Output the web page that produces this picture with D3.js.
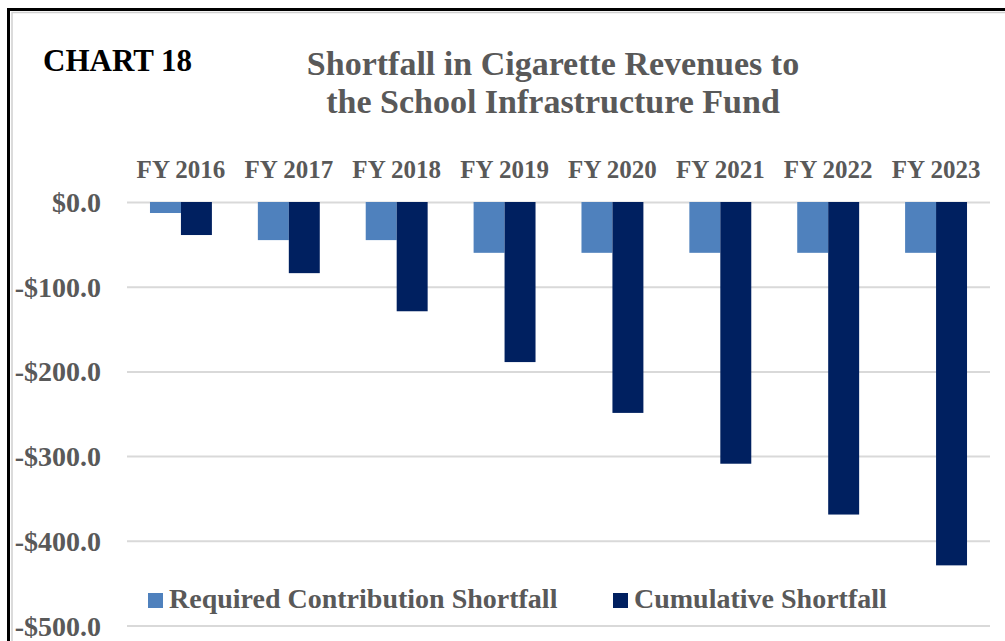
<!DOCTYPE html>
<html>
<head>
<meta charset="utf-8">
<script src="https://cdn.jsdelivr.net/npm/d3@7"></script>
<style>
  html, body { margin: 0; padding: 0; background: #fff; }
  svg { display: block; }
  text { font-family: "Liberation Serif", "Times New Roman", serif; font-weight: bold; }
</style>
</head>
<body>
<svg id="chart" width="1005" height="641"></svg>
<script>
// Fiscal years shown along the top of the chart
const categories = ["FY 2016", "FY 2017", "FY 2018", "FY 2019", "FY 2020", "FY 2021", "FY 2022", "FY 2023"];
// Annual shortfall in the required contribution ($ millions)
const requiredShortfall = [-13, -45, -45, -60, -60, -60, -60, -60];
// Running total of the shortfall ($ millions)
const cumulativeShortfall = [-39, -84, -129, -189, -249, -309, -369, -429];
// Value-axis ticks
const yTicks = [0, -100, -200, -300, -400, -500];
const seriesNames = ["Required Contribution Shortfall", "Cumulative Shortfall"];
const seriesColors = ["#4f81bd", "#002060"];

const svg = d3.select("#chart");
const grey = "#595959";

// Frame around the exhibit (runs off the right and bottom edges)
svg.append("rect")
  .attr("x", 12).attr("y", 12.5).attr("width", 1100).attr("height", 800)
  .attr("fill", "none").attr("stroke", "#d0d0d0").attr("stroke-width", 1.5);
svg.append("rect")
  .attr("x", 8.5).attr("y", 9.5).attr("width", 1100).attr("height", 800)
  .attr("fill", "none").attr("stroke", "#000").attr("stroke-width", 3);

// Exhibit number and title
svg.append("text").attr("x", 43).attr("y", 71)
  .attr("font-size", 31).attr("fill", "#000").text("CHART 18");
const title = svg.append("text").attr("text-anchor", "middle")
  .attr("font-size", 34).attr("fill", grey);
title.append("tspan").attr("x", 553).attr("y", 75).text("Shortfall in Cigarette Revenues to");
title.append("tspan").attr("x", 553).attr("y", 113).text("the School Infrastructure Fund");

// Scales
const left = 127, right = 990;
const x = d3.scaleBand().domain(categories).range([left, right]).padding(0);
const y = d3.scaleLinear().domain([0, -500]).range([202, 625.5]);
const barW = x.bandwidth() * 0.287;

// Gridlines and value labels via a left axis
const yAxis = d3.axisLeft(y).tickValues(yTicks)
  .tickSize(-(right - left)).tickPadding(26)
  .tickFormat(d => (d < 0 ? "-$" : "$") + Math.abs(d).toFixed(1));
const yG = svg.append("g").attr("transform", `translate(${left},0)`).call(yAxis);
yG.select(".domain").remove();
yG.selectAll(".tick line").attr("stroke", "#d9d9d9").attr("stroke-width", 2);
yG.selectAll(".tick text").attr("fill", grey).attr("font-size", 28)
  .attr("font-family", "Liberation Serif, serif").attr("font-weight", "bold")
  .attr("dy", "0.34em");

// Category labels across the top
const xAxis = d3.axisTop(x).tickSize(0).tickPadding(0);
const xG = svg.append("g").attr("transform", "translate(0,178)").call(xAxis);
xG.select(".domain").remove();
xG.selectAll(".tick text").attr("fill", grey).attr("font-size", 25)
  .attr("font-family", "Liberation Serif, serif").attr("font-weight", "bold")
  .attr("dy", 0);

// Bars
const series = [requiredShortfall, cumulativeShortfall];
series.forEach((vals, si) => {
  svg.append("g").selectAll("rect").data(vals).join("rect")
    .attr("x", (d, i) => x(categories[i]) + x.bandwidth() / 2 - barW + si * barW)
    .attr("y", y(0))
    .attr("width", barW)
    .attr("height", d => y(d) - y(0))
    .attr("fill", seriesColors[si]);
});

// Legend
const legendPos = [148, 613];
seriesNames.forEach((name, i) => {
  svg.append("rect").attr("x", legendPos[i]).attr("y", 593)
    .attr("width", 15).attr("height", 15).attr("fill", seriesColors[i]);
  svg.append("text").attr("x", legendPos[i] + 21).attr("y", 608)
    .attr("font-size", 28).attr("fill", grey).text(name);
});
</script>
</body>
</html>
